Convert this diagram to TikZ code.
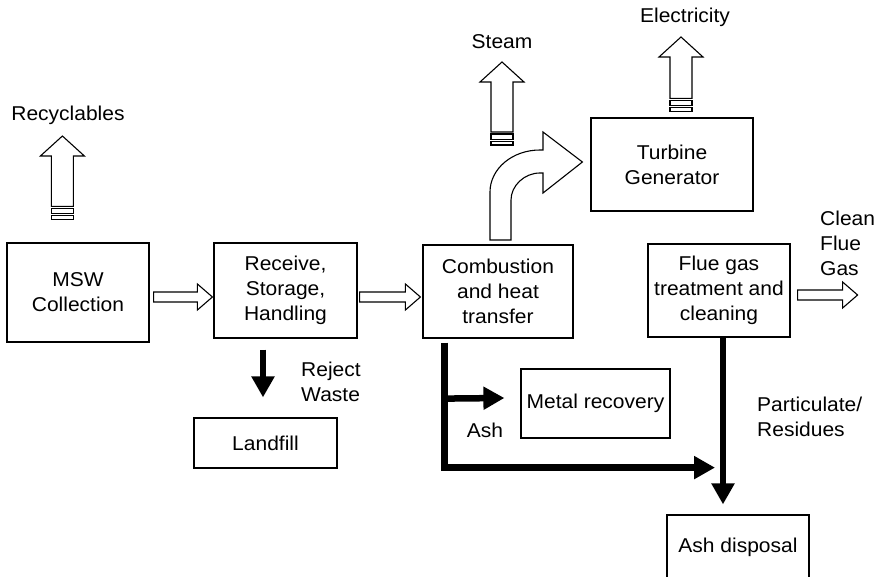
\documentclass[tikz,border=0pt]{standalone}
\usepackage{fontspec}
\setmainfont{Liberation Sans}[FakeStretch=1.05]
\usetikzlibrary{calc,arrows.meta}
\tikzset{
  box/.style={draw, line width=1.2pt, align=center, inner sep=0pt},
  lbl/.style={inner sep=0pt, align=center},
  hollow/.style={draw, fill=white, line width=1.1pt, line join=miter},
  blk/.style={line width=6.5pt, line join=miter, -{Triangle[length=21pt,width=22pt]}},
}
\newcommand\hollowH[2]{%
  \draw[hollow] let \p1=#1, \p2=#2 in
    (\x1,\y1+5pt) -- (\x2-15pt,\y1+5pt) -- (\x2-15pt,\y1+13pt) -- (\x2,\y1)
    -- (\x2-15pt,\y1-13pt) -- (\x2-15pt,\y1-5pt) -- (\x1,\y1-5pt) -- cycle;}
% #1 = base point (bottom centre of shaft), #2 = tip point
\newcommand\hollowUp[2]{%
  \draw[hollow] let \p1=#1, \p2=#2 in
    (\x1-11pt,\y1) -- (\x1-11pt,\y2-20pt) -- (\x1-22pt,\y2-20pt) -- (\x1,\y2)
    -- (\x1+22pt,\y2-20pt) -- (\x1+11pt,\y2-20pt) -- (\x1+11pt,\y1) -- cycle;
  \draw[hollow] let \p1=#1 in (\x1-11pt,\y1-2pt) rectangle (\x1+11pt,\y1-7.5pt);
  \draw[hollow] let \p1=#1 in (\x1-11pt,\y1-9.5pt) rectangle (\x1+11pt,\y1-13pt);}
\begin{document}
\begin{tikzpicture}[x=1pt,y=-1pt,font=\fontsize{20}{25}\selectfont]
\clip (0,0) rectangle (878,577);
\fill[white] (0,0) rectangle (878,577);

% boxes
\node[box, minimum width=142pt, minimum height=99pt] (msw) at (78,292.5) {MSW\\Collection};
\node[box, minimum width=143pt, minimum height=95pt] (recv) at (285.5,290.5) {Receive,\\Storage,\\Handling};
\node[box, minimum width=150pt, minimum height=93pt] (comb) at (498,291.5) {Combustion\\and heat\\transfer};
\node[box, minimum width=162pt, minimum height=93pt] (turb) at (672,164.5) {Turbine\\Generator};
\node[box, minimum width=142pt, minimum height=93pt] (flue) at (719,290.5) {Flue gas\\treatment and\\cleaning};
\node[box, minimum width=143pt, minimum height=50pt] (land) at (265.5,443) {Landfill};
\node[box, minimum width=149pt, minimum height=69pt] (metal) at (595.5,403.5) {Metal recovery};
\node[box, minimum width=142pt, minimum height=64pt] (ashd) at (738,547) {Ash disposal};

% labels
\node[lbl] (recy) at (68,115) {Recyclables};
\node[lbl] (steam) at (502,42) {Steam};
\node[lbl] (elec) at (685,17) {Electricity};
\node[lbl, anchor=west, align=left] (clean) at (820,243) {Clean\\Flue\\Gas};
\node[lbl, anchor=west, align=left] (rej) at (301,381.5) {Reject\\Waste};
\node[lbl] (ash) at (485,430) {Ash};
\node[lbl, anchor=west, align=left] (part) at (757,416.5) {Particulate/\\Residues};

% hollow horizontal arrows
\hollowH{($(msw.east)+(4,4.5)$)}{($(recv.west)+(-1,4.5)$)}
\hollowH{($(recv.east)+(2,6.5)$)}{($(comb.west)+(-2,6.5)$)}
\hollowH{($(flue.east)+(7,4.5)$)}{($(flue.east)+(67,4.5)$)}

% hollow up arrows
\coordinate (recyB) at ($(msw.north west)+(56,-36)$);
\hollowUp{(recyB)}{($(recy.center)+(-5,21)$)}
\coordinate (steamB) at (502,132);
\hollowUp{(steamB)}{($(steam.center)+(0,20)$)}
\coordinate (elecB) at ($(turb.north)+(9,-19)$);
\hollowUp{(elecB)}{($(elec.center)+(-4,20)$)}

% curved hollow arrow combustion -> turbine
\draw[hollow] (490,240) -- (490,192) .. controls (490,169) and (512,150) .. (540,150)
  -- (543,150) -- (543,132) -- ($(turb.west)+(-8,-2.5)$) -- (543,193) -- (543,173)
  -- (540,173) .. controls (524,173) and (511,186) .. (511,200) -- (511,240) -- cycle;

% black arrows
\draw[blk] ($(recv.south)+(-22.5,11)$) -- ($(land.north)+(-2.5,-20)$);
\coordinate (a0) at ($(comb.south west)+(22,4)$);
\coordinate (a1) at ($(flue.south)+(-4,130)$);
\draw[blk] (a0) |- (a1);
\draw[blk] ($(a0)+(0,56)$) -- ($(metal.west)+(-16,-5.5)$);
\draw[blk] ($(flue.south)+(4,0)$) -- ($(ashd.north)+(-15,-10)$);
\end{tikzpicture}
\end{document}
